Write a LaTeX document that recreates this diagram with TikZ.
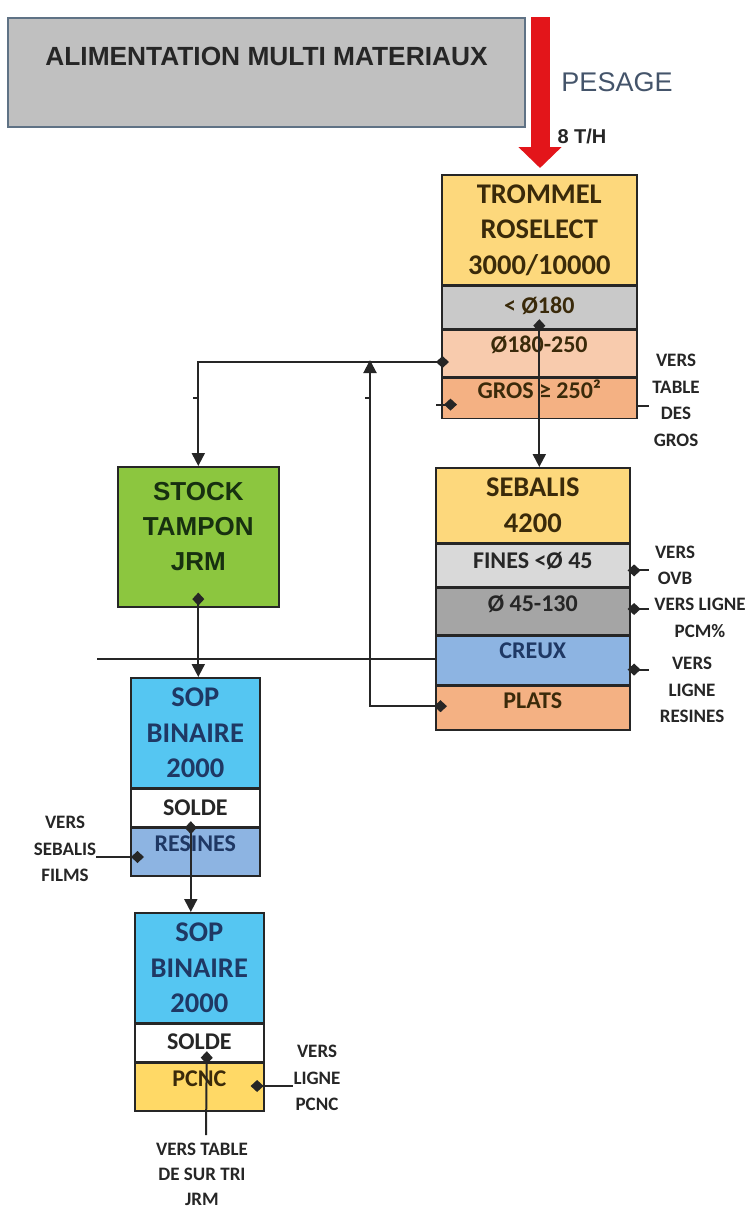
\documentclass[tikz,border=0pt]{standalone}
\usepackage{fontspec}
\setmainfont{Carlito}
\newfontfamily\arialfont{Liberation Sans}
\usetikzlibrary{positioning,arrows.meta}

\definecolor{titlegray}{HTML}{C0C0C0}
\definecolor{titleline}{HTML}{5F7285}
\definecolor{feedred}{HTML}{E3151A}
\definecolor{pesagegray}{HTML}{44546A}
\definecolor{boxline}{HTML}{262626}
\definecolor{yellowhead}{HTML}{FDD87C}
\definecolor{browntext}{HTML}{3A2A0A}
\definecolor{grayrow}{HTML}{C9C9C9}
\definecolor{lightrow}{HTML}{D9D9D9}
\definecolor{darkrow}{HTML}{A5A5A5}
\definecolor{peach}{HTML}{F8CBAD}
\definecolor{peachdark}{HTML}{F4B183}
\definecolor{creuxblue}{HTML}{8DB4E2}
\definecolor{navytext}{HTML}{1F3864}
\definecolor{stockgreen}{HTML}{8CC63F}
\definecolor{stocktext}{HTML}{173010}
\definecolor{sopcyan}{HTML}{55C6F2}
\definecolor{pcncyellow}{HTML}{FFD966}
\definecolor{sidetext}{HTML}{262626}

\tikzset{
  head/.style={draw=boxline, line width=1.6pt, inner sep=0pt, align=center,
    font=\bfseries\fontsize{28.5}{35.5}\selectfont},
  row/.style={draw=boxline, line width=1.6pt, inner sep=0pt,
    font=\bfseries\fontsize{24}{28}\selectfont, text height=15.5pt},
  side/.style={inner sep=0pt, align=center, text=sidetext,
    font=\bfseries\fontsize{19}{26.5}\selectfont},
  wire/.style={draw=boxline, line width=2pt},
  flow/.style={wire, {Diamond[length=13pt,width=12pt]}-{Triangle[length=13pt,width=13pt]}},
  tap/.style={wire, {Diamond[length=13pt,width=12pt]}-},
  tapin/.style={wire, -{Diamond[length=13pt,width=12pt]}},
  feed/.style={draw=feedred, line width=19pt, -{Triangle[length=21pt,width=42pt]}}
}

\begin{document}
\begin{tikzpicture}[x=1pt,y=-1pt]
\useasboundingbox (0,0) rectangle (752,1210);

\node[draw=titleline, line width=2pt, fill=titlegray, inner sep=0pt, minimum width=517pt,
  minimum height=109pt, anchor=north west, text=black!85,
  font=\arialfont\bfseries\fontsize{26.3}{30}\selectfont,
  text height=19pt, text depth=34pt] (feedbox) at (7,17) {ALIMENTATION MULTI MATERIAUX};
\coordinate (feedtop) at (540,17);
\draw[feed] (feedtop) -- (540,168);
\node[text=pesagegray, font=\arialfont\fontsize{27}{30}\selectfont] (pesage) at (617,82) {PESAGE};
\node[text=black!85, font=\arialfont\bfseries\fontsize{20}{24}\selectfont] (rate) at (582,136) {8 T/H};

\node[head, fill=yellowhead, text=browntext, minimum width=195pt, minimum height=110pt,
  anchor=north west] (trommel) at (441,174) {TROMMEL\\ROSELECT\\3000/10000};
\node[row, fill=grayrow, text=browntext, minimum width=195pt, minimum height=42pt,
  text depth=4pt, below=0pt of trommel] (tfine) {< Ø180};
\node[row, fill=peach, text=browntext, minimum width=195pt, minimum height=47pt,
  text depth=17pt, below=0pt of tfine] (tmid) {Ø180-250};
\node[row, fill=peachdark, text=browntext, minimum width=195pt, minimum height=40pt,
  text depth=16pt, below=0pt of tmid] (tgros) {GROS ≥ 250²};
\node[side] (ltable) at (676,400.5) {VERS\\TABLE\\DES\\GROS};

\node[head, fill=yellowhead, text=browntext, minimum width=194pt, minimum height=75pt,
  anchor=north west] (sebalis) at (435,467) {SEBALIS\\4200};
\node[row, fill=lightrow, text=sidetext, minimum width=194pt, minimum height=42pt,
  text depth=10pt, below=0pt of sebalis] (sfines) {FINES <Ø 45};
\node[row, fill=darkrow, text=sidetext, minimum width=194pt, minimum height=47pt,
  text depth=15pt, below=0pt of sfines] (smid) {Ø 45-130};
\node[row, fill=creuxblue, text=navytext, minimum width=194pt, minimum height=48pt,
  text depth=20pt, below=0pt of smid] (screux) {CREUX};
\node[row, fill=peachdark, text=browntext, minimum width=194pt, minimum height=44pt,
  text depth=14pt, below=0pt of screux] (splats) {PLATS};
\node[side] (lovb) at (675,565.5) {VERS\\OVB};
\node[side] (lpcm) at (700,618) {VERS LIGNE\\PCM\%};
\node[side] (lresines) at (692,690) {VERS\\LIGNE\\RESINES};

\node[draw=boxline, line width=1.6pt, fill=stockgreen, minimum width=161pt, minimum height=140pt,
  anchor=north west] (stock) at (117,466) {};
\node[align=center, text=stocktext, font=\arialfont\bfseries\fontsize{26}{35}\selectfont]
  (stocklbl) at ([yshift=10pt]stock.center) {STOCK\\TAMPON\\JRM};

\node[head, fill=sopcyan, text=navytext, minimum width=129pt, minimum height=110pt,
  anchor=north west] (sop1) at (130,677) {SOP\\BINAIRE\\2000};
\node[row, fill=white, text=sidetext, minimum width=129pt, minimum height=37pt,
  text depth=1pt, below=0pt of sop1] (ssolde1) {SOLDE};
\node[row, fill=creuxblue, text=navytext, minimum width=129pt, minimum height=48pt,
  text depth=16pt, below=0pt of ssolde1] (sres) {RESINES};
\node[side] (lfilms) at (65,849) {VERS\\SEBALIS\\FILMS};

\node[head, fill=sopcyan, text=navytext, minimum width=129pt, minimum height=110pt,
  anchor=north west] (sop2) at (134,912) {SOP\\BINAIRE\\2000};
\node[row, fill=white, text=sidetext, minimum width=129pt, minimum height=37pt,
  text depth=3pt, below=0pt of sop2] (ssolde2) {SOLDE};
\node[row, fill=pcncyellow, text=browntext, minimum width=129pt, minimum height=48pt,
  text depth=16pt, below=0pt of ssolde2] (spcnc) {PCNC};
\node[side] (lpcnc) at (317,1078) {VERS\\LIGNE\\PCNC};
\node[side, font=\bfseries\fontsize{19}{25}\selectfont] (lsurtri) at (202,1174) {VERS TABLE\\DE SUR TRI\\JRM};

\draw[flow] ([yshift=10pt]tfine.south) -- (tfine.south |- sebalis.north);
\draw[flow] ([shift={(8,8.5)}]tmid.west) -| (stock.north);
\coordinate (merge) at (370,360);
\draw[flow] ([shift={(12,-2)}]splats.west) -| (merge);
\coordinate (crossstart) at (97,659);
\draw[wire] (crossstart) -- (crossstart -| screux.west);
\coordinate (grosdot) at ([shift={(16,6)}]tgros.west);
\draw[tapin] ([xshift=-21pt]grosdot) -- (grosdot);
\draw[wire] ([yshift=-7pt]tgros.east) -- ++(11,0);
\coordinate (tickA) at (197.5,398);
\coordinate (tickB) at (370,398);
\draw[wire] (tickA) -- ++(-5,0);
\draw[wire] (tickB) -- ++(-5,0);

\draw[tap] ([shift={(-3,5)}]sfines.east) -- ++(21,0);
\draw[tap] ([shift={(-3,-2.5)}]smid.east) -- ++(21,0);
\draw[tap] ([shift={(-3,9)}]screux.east) -- ++(21,0);

\draw[flow] ([yshift=15pt]stock.south) -- (stock.south |- sop1.north);
\draw[flow] ([shift={(-4.5,-6)}]sres.north) -- ([xshift=-4.5pt]sres.north |- sop2.north);
\coordinate (sresdot) at ([shift={(14,5)}]sres.west);
\draw[tapin] (lfilms.east |- sresdot) -- (sresdot);

\coordinate (pcncdot) at ([shift={(-14,-1)}]spcnc.east);
\draw[tap] (pcncdot) -- (pcncdot -| lpcnc.west);
\coordinate (soldedot) at ([shift={(7.5,-11)}]ssolde2.south);
\coordinate (soldeend) at (206,1135);
\draw[tap] (soldedot) -- (soldeend);
\end{tikzpicture}
\end{document}
